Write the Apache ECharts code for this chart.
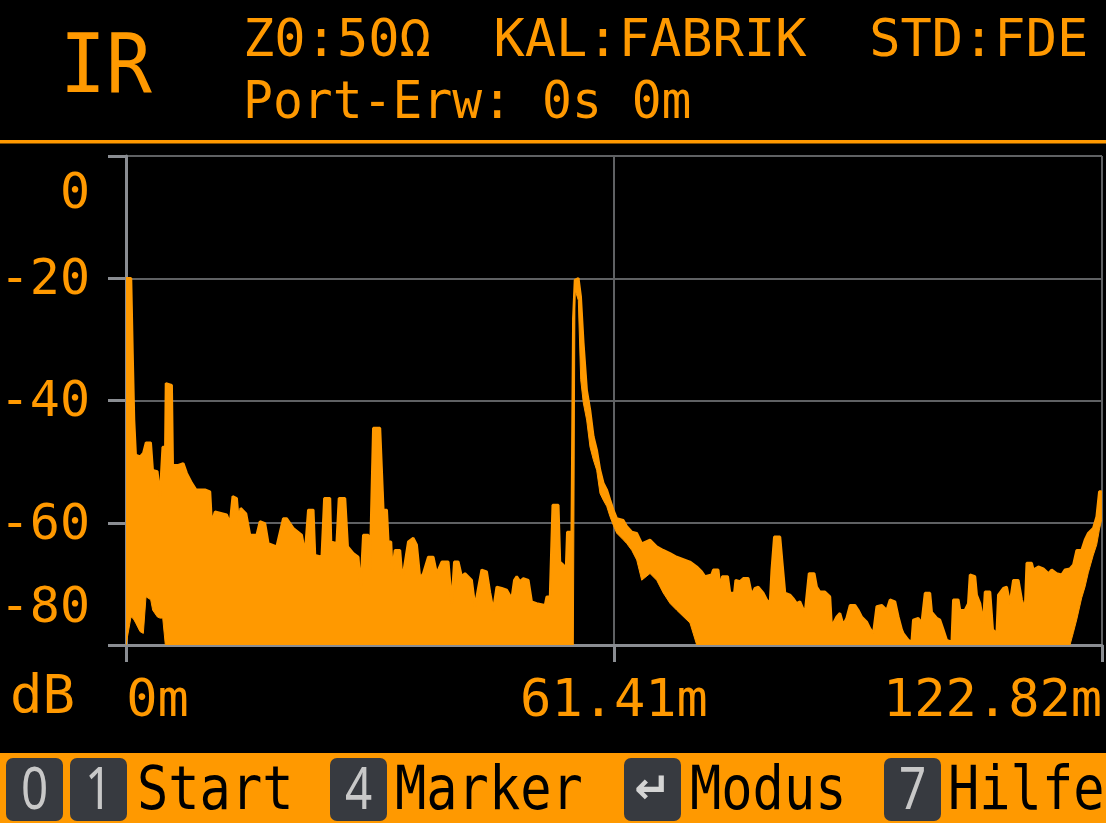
<!DOCTYPE html>
<html>
<head>
<meta charset="utf-8">
<script src="https://cdn.jsdelivr.net/npm/echarts@6/dist/echarts.min.js"></script>
<style>
html,body{margin:0;padding:0;background:#000;overflow:hidden;}
#chart{width:1106px;height:823px;}
</style>
</head>
<body>
<div id="chart"></div>
<script>
// ---- data: [distance m, upper envelope dB, lower envelope dB] ----
const segNear = [
[0,-20.0,-84],[0.63,-20.0,-75.4],[0.84,-33.4,-75.6],[1.01,-43.2,-75.9],[1.22,-48.9,-76.4],[1.76,-49.2,-77.8],[2.18,-48.6,-78.1],[2.52,-46.9,-72.1],[3.11,-46.9,-72.6],[3.36,-51.4,-74.3],
[3.94,-51.6,-75.4],[4.28,-55.7,-75.6],[4.62,-47.6,-75.6],[4.95,-47.6,-84],[5.03,-37.2,-84],[5.75,-37.5,-84],[5.88,-50.6,-84],[6.58,-50.6,-84],[7.21,-50.3,-84],[7.64,-51.9,-84],
[8.27,-53.5,-84],[8.81,-54.6,-84],[9.94,-54.6,-84],[10.57,-54.9,-84],[10.78,-60.1,-84],[11.20,-58.2,-84],[12.67,-58.7,-84],[13.09,-60.1,-84],[13.43,-55.7,-84],[13.93,-56.0,-84],
[14.18,-60.0,-84],[14.43,-57.6,-84],[15.10,-58.5,-84],[15.60,-62.0,-84],[16.45,-62.0,-84],[16.86,-59.8,-84],[17.49,-60.1,-84],[17.91,-63.4,-84],[18.96,-63.9,-84],[19.79,-59.3,-84],
[20.22,-59.3,-84],[21.05,-60.9,-84],[22.11,-62.0,-84],[22.53,-65.0,-84],[22.94,-57.9,-84],[23.57,-57.9,-84],[23.78,-65.3,-84],[24.63,-65.6,-84],[24.96,-56.0,-84],[25.67,-56.0,-84],
[25.80,-63.1,-84],[26.51,-63.4,-84],[26.80,-56.0,-84],[27.56,-56.0,-84],[27.90,-63.9,-84],[28.60,-65.0,-84],[29.23,-65.6,-84],[29.53,-70.7,-84],[29.86,-62.0,-84],[30.49,-62.0,-84],[30.70,-67.7,-84]
];
const segMid = [
[31.12,-44.5,-84],[31.96,-44.5,-84],[32.38,-57.9,-84],[32.81,-57.9,-84],[33.01,-63.1,-84],[33.35,-63.1,-84],[33.51,-68.0,-84],[33.85,-64.5,-84],[34.48,-64.5,-84],[34.77,-69.4,-84],
[35.52,-63.1,-84],[36.15,-62.5,-84],[36.58,-63.6,-84],[37.00,-69.1,-84],[37.41,-68.3,-84],[38.04,-65.6,-84],[38.67,-65.6,-84],[39.10,-68.3,-84],[39.73,-66.4,-84],[40.56,-66.4,-84],
[40.99,-73.2,-84],[41.31,-66.4,-84],[41.82,-66.4,-84],[42.24,-68.8,-84],[42.66,-68.3,-84],[43.50,-69.4,-84],[43.92,-73.7,-84],[44.33,-70.7,-84],[44.76,-67.7,-84],[45.39,-68.0,-84],
[45.81,-71.5,-84],[46.22,-74.3,-84],[46.65,-70.5,-84],[47.28,-70.7,-84],[47.91,-71.0,-84],[48.54,-72.4,-84],[48.86,-69.4,-84],[49.17,-68.8,-84],[49.58,-69.6,-84],[50.00,-69.1,-84],
[50.63,-69.4,-84],[51.05,-72.9,-84],[51.68,-73.2,-84],[52.73,-73.5,-84],[52.94,-72.1,-84],[53.36,-72.1,-84],[53.70,-57.1,-84],[54.40,-57.1,-84],[54.61,-66.4,-84],[55.03,-66.9,-84],
[55.37,-67.7,-84],[55.53,-61.5,-84],[56.09,-61.5,-84]
];
const segPeak = [
[56.29,-26.6,-84],[56.50,-20.3,-21.9],[56.92,-20.0,-23.6],[57.22,-23.0,-36.6],[57.55,-30.6,-40.4],[57.97,-38.3,-43.2],[58.39,-41.6,-47.6],[58.81,-45.9,-49.7],[59.23,-48.1,-51.4],[59.65,-51.4,-55.2],
[60.06,-53.5,-56.3],[60.49,-54.6,-57.3],[60.91,-56.3,-59.0],[61.32,-57.9,-60.4],[61.75,-59.3,-61.7],[62.58,-59.6,-62.8],[63.01,-60.6,-63.4],[63.64,-61.5,-64.5],[64.27,-61.7,-66.1],[64.90,-63.4,-69.4],
[65.94,-62.8,-68.3],[66.78,-63.9,-69.4],[67.61,-64.5,-71.5],[68.46,-65.0,-73.2],[69.30,-65.6,-74.3],[70.97,-66.4,-76.4],[71.82,-67.2,-84],[72.45,-68.0,-84]
];
const segFar = [
[72.86,-68.8,-84],[73.70,-68.5,-84],[73.90,-67.7,-84],[74.53,-67.7,-84],[74.75,-70.5,-84],[75.04,-68.8,-84],[75.72,-68.8,-84],[76.01,-71.5,-84],[76.55,-71.5,-84],[76.72,-69.4,-84],
[77.26,-69.6,-84],[77.68,-69.1,-84],[78.31,-69.1,-84],[78.74,-71.8,-84],[79.15,-70.7,-84],[79.57,-70.5,-84],[80.20,-71.5,-84],[80.63,-72.6,-84],[81.04,-73.2,-84],[81.26,-67.7,-84],
[81.58,-62.3,-84],[82.30,-62.3,-84],[82.59,-66.6,-84],[82.93,-71.5,-84],[83.56,-71.8,-84],[83.97,-72.4,-84],[84.40,-73.2,-84],[84.81,-72.9,-84],[85.44,-74.8,-84],[85.95,-68.3,-84],
[86.61,-68.3,-84],[86.92,-70.5,-84],[87.33,-71.3,-84],[87.96,-71.3,-84],[88.59,-72.1,-84],[88.80,-77.0,-84],[89.43,-75.4,-84],[89.85,-74.8,-84],[90.26,-76.7,-84],[90.69,-75.6,-84],
[91.11,-73.5,-84],[91.74,-73.5,-84],[92.15,-74.3,-84],[92.58,-75.4,-84],[93.21,-76.2,-84],[93.62,-77.3,-84],[94.04,-78.1,-84],[94.47,-73.7,-84],[95.10,-73.5,-84],[95.73,-74.3,-84],
[96.14,-72.6,-84],[96.77,-72.9,-84],[97.19,-75.4,-84],[97.62,-77.5,-84],[97.82,-78.1,-84],[98.44,-79.2,-84],[98.87,-79.5,-84],[99.07,-75.9,-84],[99.70,-75.6,-84],[100.13,-76.4,-84],
[100.55,-71.5,-84],[101.17,-71.5,-84],[101.39,-74.6,-84],[102.02,-75.6,-84],[102.43,-75.9,-84],[102.85,-77.5,-84],[103.28,-79.2,-84],[103.91,-79.5,-84],[104.11,-72.6,-84],[104.74,-72.6,-84],
[104.95,-74.3,-84],[105.58,-74.3,-84],[105.99,-73.2,-84],[106.21,-68.5,-84],[106.84,-68.8,-84],[107.05,-71.8,-84],[107.47,-73.2,-84],[107.88,-76.4,-84],[108.10,-71.3,-84],[108.73,-71.3,-84],
[109.07,-77.5,-84],[109.57,-78.1,-84],[109.77,-71.8,-84],[110.40,-70.7,-84],[110.83,-70.5,-84],[111.24,-73.2,-84],[111.66,-69.4,-84],[112.29,-69.4,-84],[112.72,-72.6,-84],[113.13,-74.3,-84],
[113.35,-66.6,-84],[113.97,-66.6,-84],[114.18,-67.7,-84],[114.81,-67.2,-84],[115.44,-67.5,-84],[116.07,-68.3,-84],[116.49,-67.7,-84],[117.12,-68.3,-84],[117.75,-68.5,-84],[118.16,-67.7,-84],
[118.79,-67.5,-84],[119.21,-66.9,-78.0],[119.63,-64.5,-75.9],[120.26,-64.5,-72.3],[120.68,-62.8,-70.5],[121.09,-61.7,-68.2],[121.72,-60.9,-65.3],[122.15,-59.0,-63.6],[122.48,-54.9,-61.2],[122.78,-54.9,-59.5]
];

const xTicks = [0, 61.41, 122.82];
const yTicks = [0, -20, -40, -60, -80];
const xUnit = 'm';
const yUnit = 'dB';
const modeLabel = 'IR';
const headerLine1 = 'Z0:50\u03A9  KAL:FABRIK  STD:FDE';
const headerLine2 = 'Port-Erw: 0s 0m';
const footerGroups = [
  { keys: ['0', '1'], action: 'Start' },
  { keys: ['4'], action: 'Marker' },
  { keys: ['\u21B5'], action: 'Modus' },
  { keys: ['7'], action: 'Hilfe' }
];

// ---- styling / layout ----
const ORANGE = '#ff9900';
const AXIS = '#8a8d92';
const GRID = '#5f6163';
const MONO = '"DejaVu Sans Mono", "Liberation Mono", monospace';

const trace = segNear.concat(segMid, segPeak, segFar);
const upperData = trace.map(p => [p[0], p[1]]);
const yFloor = yTicks[yTicks.length - 1];

const graphics = [];
function txt(x, y, text, font, fill, opts) {
  opts = opts || {};
  graphics.push(Object.assign({
    type: 'text', x: x, y: y, silent: true,
    style: {
      text: text, font: font, fill: fill,
      textAlign: opts.align || 'left', align: opts.align || 'left',
      textVerticalAlign: 'middle', verticalAlign: 'middle'
    }
  }, opts.el || {}));
}
txt(60, 71, modeLabel, '82px ' + MONO, ORANGE, { el: { scaleX: 0.93 } });
txt(243, 42, headerLine1, '52px ' + MONO, ORANGE);
txt(243, 104, headerLine2, '52px ' + MONO, ORANGE, { el: { scaleX: 0.955 } });
graphics.push({ type: 'rect', silent: true, shape: { x: 0, y: 140, width: 1106, height: 3.5 }, style: { fill: ORANGE } });
txt(10, 699, yUnit, '54px ' + MONO, ORANGE);

// footer
graphics.push({ type: 'rect', silent: true, shape: { x: 0, y: 753, width: 1106, height: 70 }, style: { fill: ORANGE } });
const keyBoxLefts = [6, 70, 330, 624, 884];
const actionLefts = [137, 395, 690, 948];
let k = 0;
footerGroups.forEach((g, gi) => {
  g.keys.forEach(key => {
    const bx = keyBoxLefts[k++];
    graphics.push({ type: 'rect', silent: true, shape: { x: bx, y: 758, width: 57, height: 63, r: 7 }, style: { fill: '#373a40' } });
    if (key === '\u21B5') {
      txt(bx + 28.5, 792, key, 'bold 44px "DejaVu Sans"', '#d4d4d4', { align: 'center' });
    } else {
      txt(bx + 28.5, 792, key, '58px "Noto Sans"', '#c8c8c8', { align: 'center', el: { scaleX: 0.82 } });
    }
  });
  txt(actionLefts[gi], 793, g.action, '52px ' + MONO, '#000', { el: { scaleY: 1.18 } });
});

const chart = echarts.init(document.getElementById('chart'), null, { renderer: 'canvas' });
const labelFontX = { fontFamily: MONO, fontSize: 52, color: ORANGE };
const labelFontY = { fontFamily: MONO, fontSize: 50, color: ORANGE };
chart.setOption({
  backgroundColor: '#000',
  animation: false,
  grid: { left: 126, right: 4, top: 156, bottom: 178, outerBoundsMode: 'none', containLabel: false },
  xAxis: {
    type: 'value',
    min: xTicks[0], max: xTicks[xTicks.length - 1], interval: xTicks[1] - xTicks[0],
    axisLine: { show: true, onZero: false, lineStyle: { color: AXIS, width: 3 } },
    axisTick: { show: true, length: 17, lineStyle: { color: AXIS, width: 3 } },
    splitLine: { show: true, lineStyle: { color: GRID, width: 2 } },
    axisLabel: Object.assign({
      margin: 31,
      showMinLabel: true, showMaxLabel: true,
      formatter: (v, i) => {
        const s = xTicks[i] + xUnit;
        if (i === 0) return '{l|' + s + '}';
        if (i === xTicks.length - 1) return '{r|' + s + '}';
        return '{c|' + s + '}';
      },
      rich: {
        l: Object.assign({ padding: [0, 0, 0, 63] }, labelFontX),
        r: Object.assign({ padding: [0, 219, 0, 0] }, labelFontX),
        c: Object.assign({}, labelFontX)
      }
    }, labelFontX)
  },
  yAxis: {
    type: 'value',
    min: yFloor, max: yTicks[0], interval: yTicks[0] - yTicks[1],
    axisLine: { show: true, onZero: false, lineStyle: { color: AXIS, width: 3 } },
    axisTick: { show: true, length: 18, lineStyle: { color: AXIS, width: 3 } },
    splitLine: { show: true, lineStyle: { color: GRID, width: 2 } },
    axisLabel: Object.assign({
      margin: 36,
      showMinLabel: true, showMaxLabel: true,
      formatter: v => {
        if (v === yTicks[0]) return '{t|' + v + '}';
        if (v === yFloor) return '{b|' + v + '}';
        return '{m|' + v + '}';
      },
      rich: {
        t: Object.assign({ padding: [78, 0, 0, 0] }, labelFontY),
        b: Object.assign({ padding: [0, 0, 72, 0] }, labelFontY),
        m: Object.assign({ padding: [6, 0, 0, 0] }, labelFontY)
      }
    }, labelFontY)
  },
  series: [
    {
      // filled band between lower and upper envelope of the trace
      type: 'custom', name: 'IR band', silent: true, z: 2,
      data: [upperData[0]],
      encode: { x: 0, y: 1 },
      renderItem: (params, api) => {
        if (params.dataIndex !== 0) return null;
        const top = trace.map(p => api.coord([p[0], p[1]]));
        const bottom = trace.map(p => api.coord([p[0], Math.max(p[2], yFloor)])).reverse();
        const cs = params.coordSys;
        return {
          type: 'polygon',
          shape: { points: top.concat(bottom) },
          style: { fill: ORANGE, stroke: ORANGE, lineWidth: 1 },
          clipPath: { type: 'rect', shape: { x: cs.x, y: cs.y, width: cs.width, height: cs.height } }
        };
      }
    },
    {
      type: 'line', name: 'IR', data: upperData, symbol: 'none', silent: true, z: 3,
      lineStyle: { color: ORANGE, width: 2.5 }
    }
  ],
  graphic: graphics
});
</script>
</body>
</html>
